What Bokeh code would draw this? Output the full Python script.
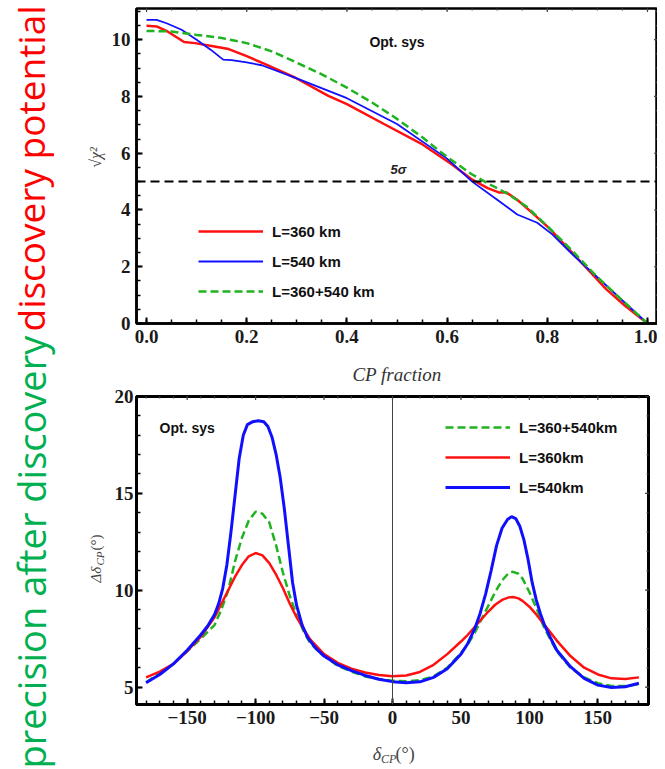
import math
import numpy as np
from bokeh.plotting import figure
from bokeh.layouts import row, column
from bokeh.models import (Range1d, LinearAxis, Span, Label, Legend, LegendItem,
                          SingleIntervalTicker, NumeralTickFormatter)
from bokeh.embed import file_html
from bokeh.resources import INLINE

# ---------------- top panel data: discovery potential ----------------
cp_x_360 = [0, 0.02, 0.042, 0.075, 0.097, 0.127, 0.164, 0.2, 0.238, 0.297, 0.363, 0.4,
            0.474, 0.548, 0.607, 0.651, 0.681, 0.703, 0.718, 0.74, 0.77, 0.803, 0.843,
            0.88, 0.917, 0.954, 1.0]
chi_360 = [10.49, 10.47, 10.29, 9.92, 9.88, 9.79, 9.67, 9.42, 9.13, 8.66, 8.02, 7.73,
           7.03, 6.34, 5.64, 5.06, 4.77, 4.62, 4.62, 4.36, 3.9, 3.37, 2.62,
           1.92, 1.22, 0.64, 0.0]

cp_x_540 = [0, 0.02, 0.04, 0.07, 0.1, 0.128, 0.153, 0.17, 0.2, 0.23, 0.3, 0.4, 0.5, 0.6,
            0.65, 0.7, 0.74, 0.78, 0.81, 0.85, 0.9, 0.95, 1.0]
chi_540 = [10.7, 10.7, 10.58, 10.35, 10.0, 9.65, 9.3, 9.28, 9.2, 9.1, 8.64, 7.94, 7.03, 5.81,
           5.0, 4.36, 3.84, 3.55, 3.14, 2.44, 1.63, 0.81, 0.0]

cp_x_comb = [0, 0.05, 0.1, 0.15, 0.2, 0.25, 0.3, 0.35, 0.4, 0.45, 0.5, 0.55, 0.6, 0.65,
             0.68, 0.72, 0.76, 0.8, 0.85, 0.9, 0.95, 1.0]
chi_comb = [10.31, 10.29, 10.17, 10.06, 9.88, 9.59, 9.19, 8.78, 8.31, 7.79, 7.21, 6.57,
            5.87, 5.25, 4.95, 4.58, 4.1, 3.43, 2.56, 1.63, 0.81, 0.0]

five_sigma = 5

# ---------------- bottom panel data: precision after discovery ----------------
delta_cp = [-180, -170, -160, -150, -140, -130, -125, -120, -115, -110, -105, -100, -95,
            -90, -85, -80, -75, -70, -65, -60, -50, -40, -30, -20, -10, 0, 10, 20, 30,
            40, 50, 55, 60, 65, 70, 75, 80, 85, 88, 92, 95, 100, 105, 110, 115, 120,
            130, 140, 150, 160, 170, 180]
prec_comb = [5.25, 5.7, 6.2, 6.85, 7.5, 8.2, 9.0, 10.0, 11.5, 12.7, 13.6, 14.05, 13.95,
             13.5, 12.3, 10.9, 9.7, 8.7, 7.9, 7.25, 6.6, 6.1, 5.8, 5.55, 5.42, 5.33, 5.3,
             5.35, 5.55, 6.0, 6.75, 7.2, 7.8, 8.5, 9.2, 9.9, 10.5, 10.9, 10.95, 10.85, 10.6,
             9.9, 9.1, 8.2, 7.5, 6.85, 6.0, 5.5, 5.2, 5.05, 5.05, 5.15]
prec_360 = [5.5, 5.8, 6.2, 6.85, 7.6, 8.6, 9.3, 10.0, 10.7, 11.3, 11.75, 11.92, 11.8,
            11.4, 10.8, 10.1, 9.3, 8.6, 8.0, 7.45, 6.7, 6.25, 5.95, 5.75, 5.62, 5.56, 5.6,
            5.78, 6.15, 6.7, 7.35, 7.7, 8.1, 8.5, 8.9, 9.25, 9.5, 9.63, 9.65, 9.58, 9.45,
            9.15, 8.75, 8.3, 7.85, 7.4, 6.6, 6.0, 5.65, 5.45, 5.42, 5.5]

delta_cp_540 = [-180, -170, -160, -150, -140, -135, -130, -127, -124, -121, -118, -115, -112,
                -109, -106, -102, -98, -94, -91, -88, -85, -82, -79, -76, -73, -70, -66,
                -62, -56, -50, -40, -30, -20, -10, 0, 10, 20, 30, 40, 50, 55, 60, 64, 68,
                72, 76, 80, 84, 87, 90, 93, 96, 99, 102, 105, 108, 111, 115, 120, 130, 140,
                150, 160, 170, 180]
prec_540 = [5.22, 5.65, 6.2, 6.9, 7.7, 8.15, 8.75, 9.3, 10.1, 11.3, 13.0, 14.9, 16.8,
            18.0, 18.55, 18.7, 18.75, 18.7, 18.45, 17.9, 17.0, 15.8, 14.2, 12.3, 10.4, 9.2,
            8.2, 7.55, 7.0, 6.6, 6.15, 5.85, 5.6, 5.4, 5.28, 5.22, 5.27, 5.5, 5.95, 6.7,
            7.25, 8.0, 8.8, 9.8, 11.0, 12.3, 13.2, 13.65, 13.8, 13.7, 13.3, 12.6, 11.6,
            10.4, 9.5, 8.8, 8.2, 7.6, 6.9, 6.05, 5.45, 5.1, 4.98, 5.02, 5.2]

bottom_x_ticks = [-150, -100, -50, 0, 50, 100, 150]

RED = "#ff1010"
BLUE = "#1010ff"
GREEN = "#1fb31f"
SERIF = "Liberation Serif"
SANS = "Liberation Sans"
LABEL_GREY = "#444444"


def style_axes(p, xticker, yticker, xformatter=None, overrides=None, y_standoff=6):
    xa = LinearAxis(ticker=xticker)
    ya = LinearAxis(ticker=yticker)
    if xformatter is not None:
        xa.formatter = xformatter
    if overrides:
        xa.major_label_overrides = overrides
    for ax in (xa, ya):
        ax.axis_line_color = "black"
        ax.axis_line_width = 2.5
        ax.major_tick_in = 6
        ax.major_tick_out = 0
        ax.minor_tick_in = 4
        ax.minor_tick_out = 0
        ax.major_tick_line_width = 2
        ax.minor_tick_line_width = 1.5
        ax.major_tick_line_color = "black"
        ax.minor_tick_line_color = "black"
        ax.major_label_text_font = SERIF
        ax.major_label_text_font_style = "bold"
        ax.major_label_text_font_size = "19px"
        ax.major_label_text_color = "#1a1a1a"
        ax.major_label_standoff = 6
    ya.major_label_standoff = y_standoff
    p.add_layout(xa, "below")
    p.add_layout(ya, "left")
    return xa, ya


def mirror_ticks(p, xr, yr, xstep, ystep, xminor, yminor):
    # small inward ticks on the top and right frame edges (dash markers clipped by the frame)
    for step, size in ((xstep, 7), (xminor, 4)):
        xs = np.arange(math.ceil(xr[0] / step) * step, xr[1] + 1e-9, step)
        p.scatter(xs, [yr[1]] * len(xs), marker="dash", angle=math.pi / 2, size=size,
                  line_color="#444444", line_width=1.2)
    for step, size in ((ystep, 7), (yminor, 4)):
        ys = np.arange(math.ceil(yr[0] / step) * step, yr[1] + 1e-9, step)
        p.scatter([xr[1]] * len(ys), ys, marker="dash", angle=0, size=size,
                  line_color="#444444", line_width=1.2)


# ---------------- left strip: big coloured captions and y-axis titles ----------------
SIDE_W = 106
side = figure(width=SIDE_W, height=769, x_range=Range1d(0, SIDE_W), y_range=Range1d(0, 769),
              toolbar_location=None, output_backend="svg", min_border=0,
              x_axis_type=None, y_axis_type=None)
side.outline_line_color = None
side.add_layout(Label(x=30, y=1, text="precision after discovery", angle=math.pi / 2,
                      text_align="left", text_baseline="alphabetic", text_font="Open Sans",
                      text_font_size="38px", text_color="#00b050"))
side.add_layout(Label(x=30, y=438, text="discovery potential", angle=math.pi / 2,
                      text_align="left", text_baseline="alphabetic", text_font="Open Sans",
                      text_font_size="37px", text_color="#ff0000"))
side.add_layout(Label(x=95, y=612, text="√χ²", angle=math.pi / 2, text_align="center",
                      text_baseline="middle", text_font=SERIF, text_font_style="italic",
                      text_font_size="16px", text_color=LABEL_GREY))
side.add_layout(Label(x=95, y=187, text="Δδ", angle=math.pi / 2, text_align="left",
                      text_baseline="middle", text_font=SERIF, text_font_style="italic",
                      text_font_size="15px", text_color=LABEL_GREY))
side.add_layout(Label(x=99, y=204, text="CP", angle=math.pi / 2, text_align="left",
                      text_baseline="middle", text_font=SERIF, text_font_style="italic",
                      text_font_size="11px", text_color=LABEL_GREY))
side.add_layout(Label(x=95, y=219, text="(°)", angle=math.pi / 2, text_align="left",
                      text_baseline="middle", text_font=SERIF, text_font_size="15px",
                      text_color=LABEL_GREY))

MAIN_W = 665 - SIDE_W

# ---------------- top panel ----------------
top_xr = (-0.02, 1.02)
top_yr = (0, 11.1)
top = figure(frame_width=521, frame_height=315, x_range=Range1d(*top_xr),
             y_range=Range1d(*top_yr),
             toolbar_location=None, output_backend="svg", x_axis_type=None, y_axis_type=None,
             min_border_left=136 - SIDE_W, min_border_right=0, min_border_top=8,
             min_border_bottom=63)
top.outline_line_color = "black"
top.outline_line_width = 2.5
xa, ya = style_axes(top, SingleIntervalTicker(interval=0.2, num_minor_ticks=4),
                    SingleIntervalTicker(interval=2, num_minor_ticks=4),
                    xformatter=NumeralTickFormatter(format="0.0"))
xa.axis_label = "CP fraction"
xa.axis_label_text_font = SERIF
xa.axis_label_text_font_style = "italic"
xa.axis_label_text_font_size = "19px"
xa.axis_label_text_color = "#333333"
xa.axis_label_standoff = 18
mirror_ticks(top, top_xr, top_yr, 0.2, 2, 0.05, 0.5)

top.add_layout(Span(location=five_sigma, dimension="width", line_color="black",
                    line_width=2, line_dash="9 5"))
r_t360 = top.line(cp_x_360, chi_360, line_color=RED, line_width=2.5)
r_t540 = top.line(cp_x_540, chi_540, line_color=BLUE, line_width=1.8)
r_tcomb = top.line(cp_x_comb, chi_comb, line_color=GREEN, line_width=2.5, line_dash="8 4")

leg_t = Legend(items=[LegendItem(label="L=360 km", renderers=[r_t360]),
                      LegendItem(label="L=540 km", renderers=[r_t540]),
                      LegendItem(label="L=360+540 km", renderers=[r_tcomb])],
               location=(62, 22))
top.add_layout(leg_t)

top.add_layout(Label(x=0.50, y=9.93, text="Opt. sys", text_align="center",
                     text_baseline="middle", text_font=SANS, text_font_style="bold",
                     text_font_size="14px", text_color="#111111"))
top.add_layout(Label(x=0.503, y=5.15, text="5σ", text_align="center",
                     text_baseline="bottom", text_font=SANS, text_font_style="bold italic",
                     text_font_size="13px", text_color="#222222"))

# ---------------- bottom panel ----------------
bot_xr = (-187, 187)
bot_yr = (4.1, 20)
bot = figure(frame_width=512, frame_height=308, x_range=Range1d(*bot_xr),
             y_range=Range1d(*bot_yr),
             toolbar_location=None, output_backend="svg", x_axis_type=None, y_axis_type=None,
             min_border_left=132 - SIDE_W, min_border_right=21, min_border_top=9,
             min_border_bottom=33)
bot.outline_line_color = "black"
bot.outline_line_width = 3
overrides = {t: (("\u2212" + str(-t)) if t < 0 else str(t)) for t in bottom_x_ticks}
style_axes(bot, SingleIntervalTicker(interval=50, num_minor_ticks=5),
           SingleIntervalTicker(interval=5, num_minor_ticks=5), overrides=overrides,
           y_standoff=3)
mirror_ticks(bot, bot_xr, bot_yr, 50, 5, 10, 1)

bot.add_layout(Span(location=0, dimension="height", line_color="#444444", line_width=1))
r_bcomb = bot.line(delta_cp, prec_comb, line_color=GREEN, line_width=2.5, line_dash="8 4")
r_b360 = bot.line(delta_cp, prec_360, line_color=RED, line_width=2.5)
r_b540 = bot.line(delta_cp_540, prec_540, line_color=BLUE, line_width=3)

leg_b = Legend(items=[LegendItem(label="L=360+540km", renderers=[r_bcomb]),
                      LegendItem(label="L=360km", renderers=[r_b360]),
                      LegendItem(label="L=540km", renderers=[r_b540])],
               location=(309, 207))
bot.add_layout(leg_b)

for lg in (leg_t, leg_b):
    lg.background_fill_alpha = 0
    lg.border_line_color = None
    lg.label_text_font = SANS
    lg.label_text_font_style = "bold"
    lg.label_text_font_size = "15px"
    lg.label_text_color = "#111111"
    lg.glyph_width = 65
    lg.glyph_height = 20
    lg.label_height = 20
    lg.spacing = 10
    lg.padding = 0
    lg.margin = 0
    lg.label_standoff = 9

bot.add_layout(Label(x=-150, y=18.35, text="Opt. sys", text_align="center",
                     text_baseline="middle", text_font=SANS, text_font_style="bold",
                     text_font_size="14px", text_color="#111111"))

# ---------------- strip under the bottom panel: x-axis title δ_CP(°) ----------------
strip = figure(width=MAIN_W, height=33, x_range=Range1d(0, MAIN_W), y_range=Range1d(0, 33),
               toolbar_location=None, output_backend="svg", min_border=0,
               x_axis_type=None, y_axis_type=None)
strip.outline_line_color = None
sx = 366 - SIDE_W
strip.add_layout(Label(x=sx, y=17, text="δ", text_align="left", text_baseline="middle",
                       text_font=SERIF, text_font_style="italic", text_font_size="18px",
                       text_color=LABEL_GREY))
strip.add_layout(Label(x=sx + 9, y=12, text="CP", text_align="left", text_baseline="middle",
                       text_font=SERIF, text_font_style="italic", text_font_size="12px",
                       text_color=LABEL_GREY))
strip.add_layout(Label(x=sx + 25, y=17, text="(°)", text_align="left", text_baseline="middle",
                       text_font=SERIF, text_font_size="18px", text_color=LABEL_GREY))

layout = row(side, column(top, bot, strip))
open("out.html", "w").write(file_html(layout, INLINE))
